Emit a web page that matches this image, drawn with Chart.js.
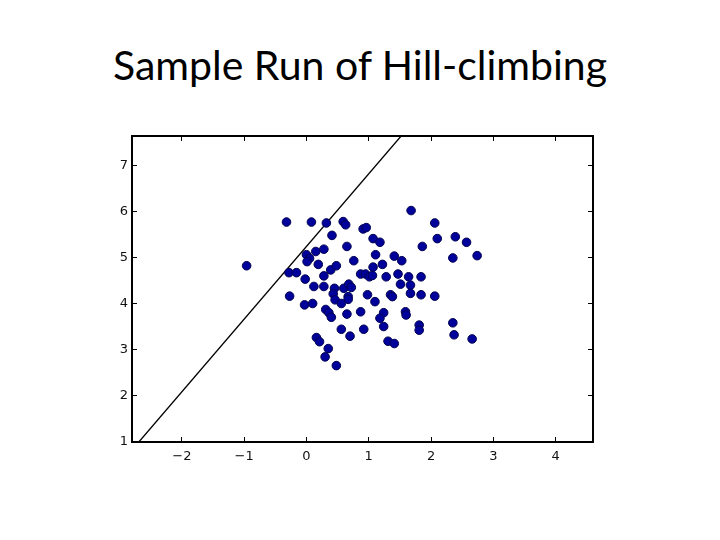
<!DOCTYPE html>
<html>
<head>
<meta charset="utf-8">
<script src="https://cdn.jsdelivr.net/npm/chart.js@4"></script>
<style>
  html, body { margin: 0; padding: 0; background: #fff; }
  #wrap { position: relative; width: 720px; height: 540px; }
  #title {
    position: absolute; left: 0; top: 37px; width: 720px;
    text-align: center; font-family: Lato, "Open Sans", sans-serif;
    font-size: 41px; line-height: 56px; color: #000;
  }
  canvas { position: absolute; left: 0; top: 0; }
</style>
</head>
<body>
<div id="wrap">
  <div id="title">Sample Run of Hill-climbing</div>
  <canvas id="chart" width="720" height="540"></canvas>
</div>
<script>
// scatter points
const pointsX = [-0.96, -0.32, 0.08, 0.32, 0.59, 0.63, 1.68, 2.06, 0.41, 0.91,
  0.96, 1.07, 1.18, 0.65, 0.28, 0.15, 0.00, 0.05, 0.01, 0.19,
  -0.28, -0.16, -0.02, -0.27, -0.03, 0.10, 0.12, 0.28, 0.28, 0.39,
  0.48, 0.45, 0.43, 0.46, 0.56, 0.60, 0.68, 0.72, 0.67, 0.67,
  0.76, 0.87, 0.95, 1.01, 1.06, 1.07, 1.11, 1.22, 1.28, 1.41,
  1.53, 1.47, 1.51, 1.64, 1.67, 1.67, 1.84, 1.84, 1.86, 2.10,
  2.39, 2.57, 2.35, 2.74, 2.06, 1.35, 1.38, 0.98, 1.10, 0.87,
  1.24, 1.18, 1.24, 0.92, 0.65, 0.31, 0.36, 0.40, 0.56, 0.70,
  0.16, 0.21, 0.35, 0.30, 0.48, 1.31, 1.41, 1.59, 1.60, 1.81,
  1.81, 2.35, 2.37, 2.66];
const pointsY = [4.83, 5.78, 5.78, 5.76, 5.79, 5.72, 6.03, 5.76, 5.49, 5.63,
  5.66, 5.42, 5.34, 5.25, 5.19, 5.14, 5.07, 4.99, 4.92, 4.86,
  4.68, 4.68, 4.54, 4.17, 3.98, 4.01, 4.38, 4.61, 4.38, 4.74,
  4.83, 4.34, 4.22, 4.09, 4.01, 4.34, 4.43, 4.36, 4.16, 4.10,
  4.94, 4.65, 4.65, 4.59, 4.62, 4.80, 5.07, 4.86, 4.59, 5.04,
  4.94, 4.65, 4.43, 4.59, 4.41, 4.23, 4.59, 4.20, 5.25, 5.42,
  5.46, 5.34, 5.00, 5.05, 4.17, 4.20, 4.16, 4.20, 4.05, 3.83,
  3.81, 3.69, 3.51, 3.45, 3.78, 3.88, 3.81, 3.71, 3.45, 3.30,
  3.27, 3.18, 3.03, 2.85, 2.66, 3.19, 3.14, 3.83, 3.76, 3.54,
  3.43, 3.59, 3.33, 3.24];

// separating line endpoints
const lineX = [-2.69, 1.52];
const lineY = [1, 7.65];

const xRange = [-2.8, 4.6];
const yRange = [1, 7.65];

const points = pointsX.map((x, i) => ({ x: x, y: pointsY[i] }));
const line = lineX.map((x, i) => ({ x: x, y: lineY[i] }));

const onlyInts = s => { s.ticks = s.ticks.filter(t => Number.isInteger(t.value)); };
const minus = v => String(v).replace('-', '\u2212');
const tickFont = { family: 'DejaVu Sans', size: 13 };

function axis(min, max, pos, extra) {
  return Object.assign({
    type: 'linear', position: pos, min: min, max: max,
    ticks: { stepSize: 1, color: '#111', font: tickFont, callback: minus },
    grid: { drawOnChartArea: false, tickLength: -5, color: '#000', tickWidth: 1 },
    border: { display: true, color: '#000', width: 2 },
    afterBuildTicks: onlyInts
  }, extra);
}

new Chart(document.getElementById('chart'), {
  type: 'scatter',
  data: {
    datasets: [{
      data: points,
      backgroundColor: '#00009a',
      borderColor: '#000050',
      borderWidth: 1,
      pointRadius: 4.3
    }, {
      type: 'line',
      data: line,
      borderColor: '#000',
      borderWidth: 1.3,
      pointRadius: 0,
      fill: false
    }]
  },
  options: {
    responsive: false,
    animation: false,
    layout: { padding: { left: 92, right: 127, top: 136, bottom: 68 } },
    plugins: { legend: { display: false }, tooltip: { enabled: false } },
    scales: {
      x: axis(xRange[0], xRange[1], 'bottom', {
        afterFit: s => { s.height = 30; },
        ticks: { stepSize: 1, color: '#111', font: tickFont, callback: minus, padding: 12 }
      }),
      y: axis(yRange[0], yRange[1], 'left', {
        afterFit: s => { s.width = 40; },
        ticks: { stepSize: 1, color: '#111', font: tickFont, callback: minus, padding: 9 }
      }),
      x2: axis(xRange[0], xRange[1], 'top', {
        ticks: { display: false, stepSize: 1 },
        afterFit: s => { s.height = 0; }
      }),
      y2: axis(yRange[0], yRange[1], 'right', {
        ticks: { display: false, stepSize: 1 },
        afterFit: s => { s.width = 0; }
      })
    }
  }
});
</script>
</body>
</html>
